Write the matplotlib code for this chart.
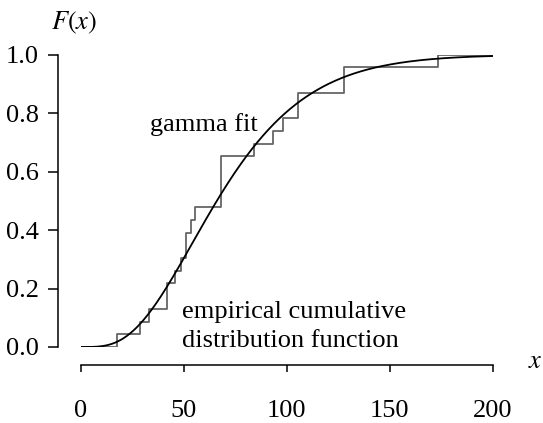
import math
import numpy as np
import matplotlib.pyplot as plt

# observed sample values (read from the step positions), n = 23
sample = [17.8, 28.8, 33.3, 41.7, 41.7, 45.8, 48.8, 51.3, 51.3, 53.6, 55.6,
          67.9, 67.9, 67.9, 67.9, 84.2, 93.2, 98.4, 105.3, 105.3,
          128.0, 128.0, 173.3]

# gamma fit parameters
gamma_shape = 4.0
gamma_scale = 18.0

x_ticks = [0, 50, 100, 150, 200]
y_ticks = [0.0, 0.2, 0.4, 0.6, 0.8, 1.0]
y_ticklabels = ['0.0', '0.2', '0.4', '0.6', '0.8', '1.0']


def gamma_cdf(x, k, theta):
    pdf = np.zeros_like(x)
    pos = x > 0
    pdf[pos] = np.exp((k - 1) * np.log(x[pos]) - x[pos] / theta
                      - math.lgamma(k) - k * np.log(theta))
    cdf = np.concatenate([[0.0], np.cumsum(0.5 * (pdf[1:] + pdf[:-1]) * np.diff(x))])
    return cdf


plt.rcParams['font.family'] = ['Liberation Serif', 'DejaVu Serif']
plt.rcParams['mathtext.fontset'] = 'stix'
plt.rcParams['font.size'] = 19

fig = plt.figure(figsize=(5.43, 4.23), dpi=100)
ax = fig.add_axes([0.1486, 0.1797, 0.7587, 0.691])

# empirical cdf
vals = np.sort(np.array(sample))
n = len(vals)
xs = np.concatenate([[0.0], vals, [200.0]])
ys = np.concatenate([[0.0], np.arange(1, n + 1) / n, [1.0]])
ax.step(xs, ys, where='post', color='#666666', lw=1.3)

# gamma fit
t = np.linspace(0, 200, 600)
ax.plot(t, gamma_cdf(t, gamma_shape, gamma_scale), color='black', lw=1.3)

ax.set_xlim(0, 200)
ax.set_ylim(0, 1)

for s in ['top', 'right']:
    ax.spines[s].set_visible(False)
ax.spines['left'].set_position(('outward', 16))
ax.spines['bottom'].set_position(('outward', 13))
ax.spines['left'].set_bounds(0, 1)
ax.spines['bottom'].set_bounds(0, 200)
ax.spines['left'].set_linewidth(1.1)
ax.spines['bottom'].set_linewidth(1.1)

ax.set_xticks(x_ticks)
ax.set_yticks(y_ticks)
ax.set_yticklabels(y_ticklabels)
ax.tick_params(axis='x', length=5, width=1.1, pad=20)
ax.tick_params(axis='y', length=7, width=1.1, pad=7)

ax.text(33.5, 0.76, 'gamma fit', va='center', ha='left')
ax.text(49.2, 0.118, 'empirical cumulative', va='center', ha='left')
ax.text(49.2, 0.022, 'distribution function', va='center', ha='left')

fig.text(74 / 543, 1 - 23 / 423, '$F(x)$', ha='center', va='center')
fig.text(535 / 543, 1 - 362 / 423, '$x$', ha='center', va='center')

fig.savefig('out.png', dpi=100)
